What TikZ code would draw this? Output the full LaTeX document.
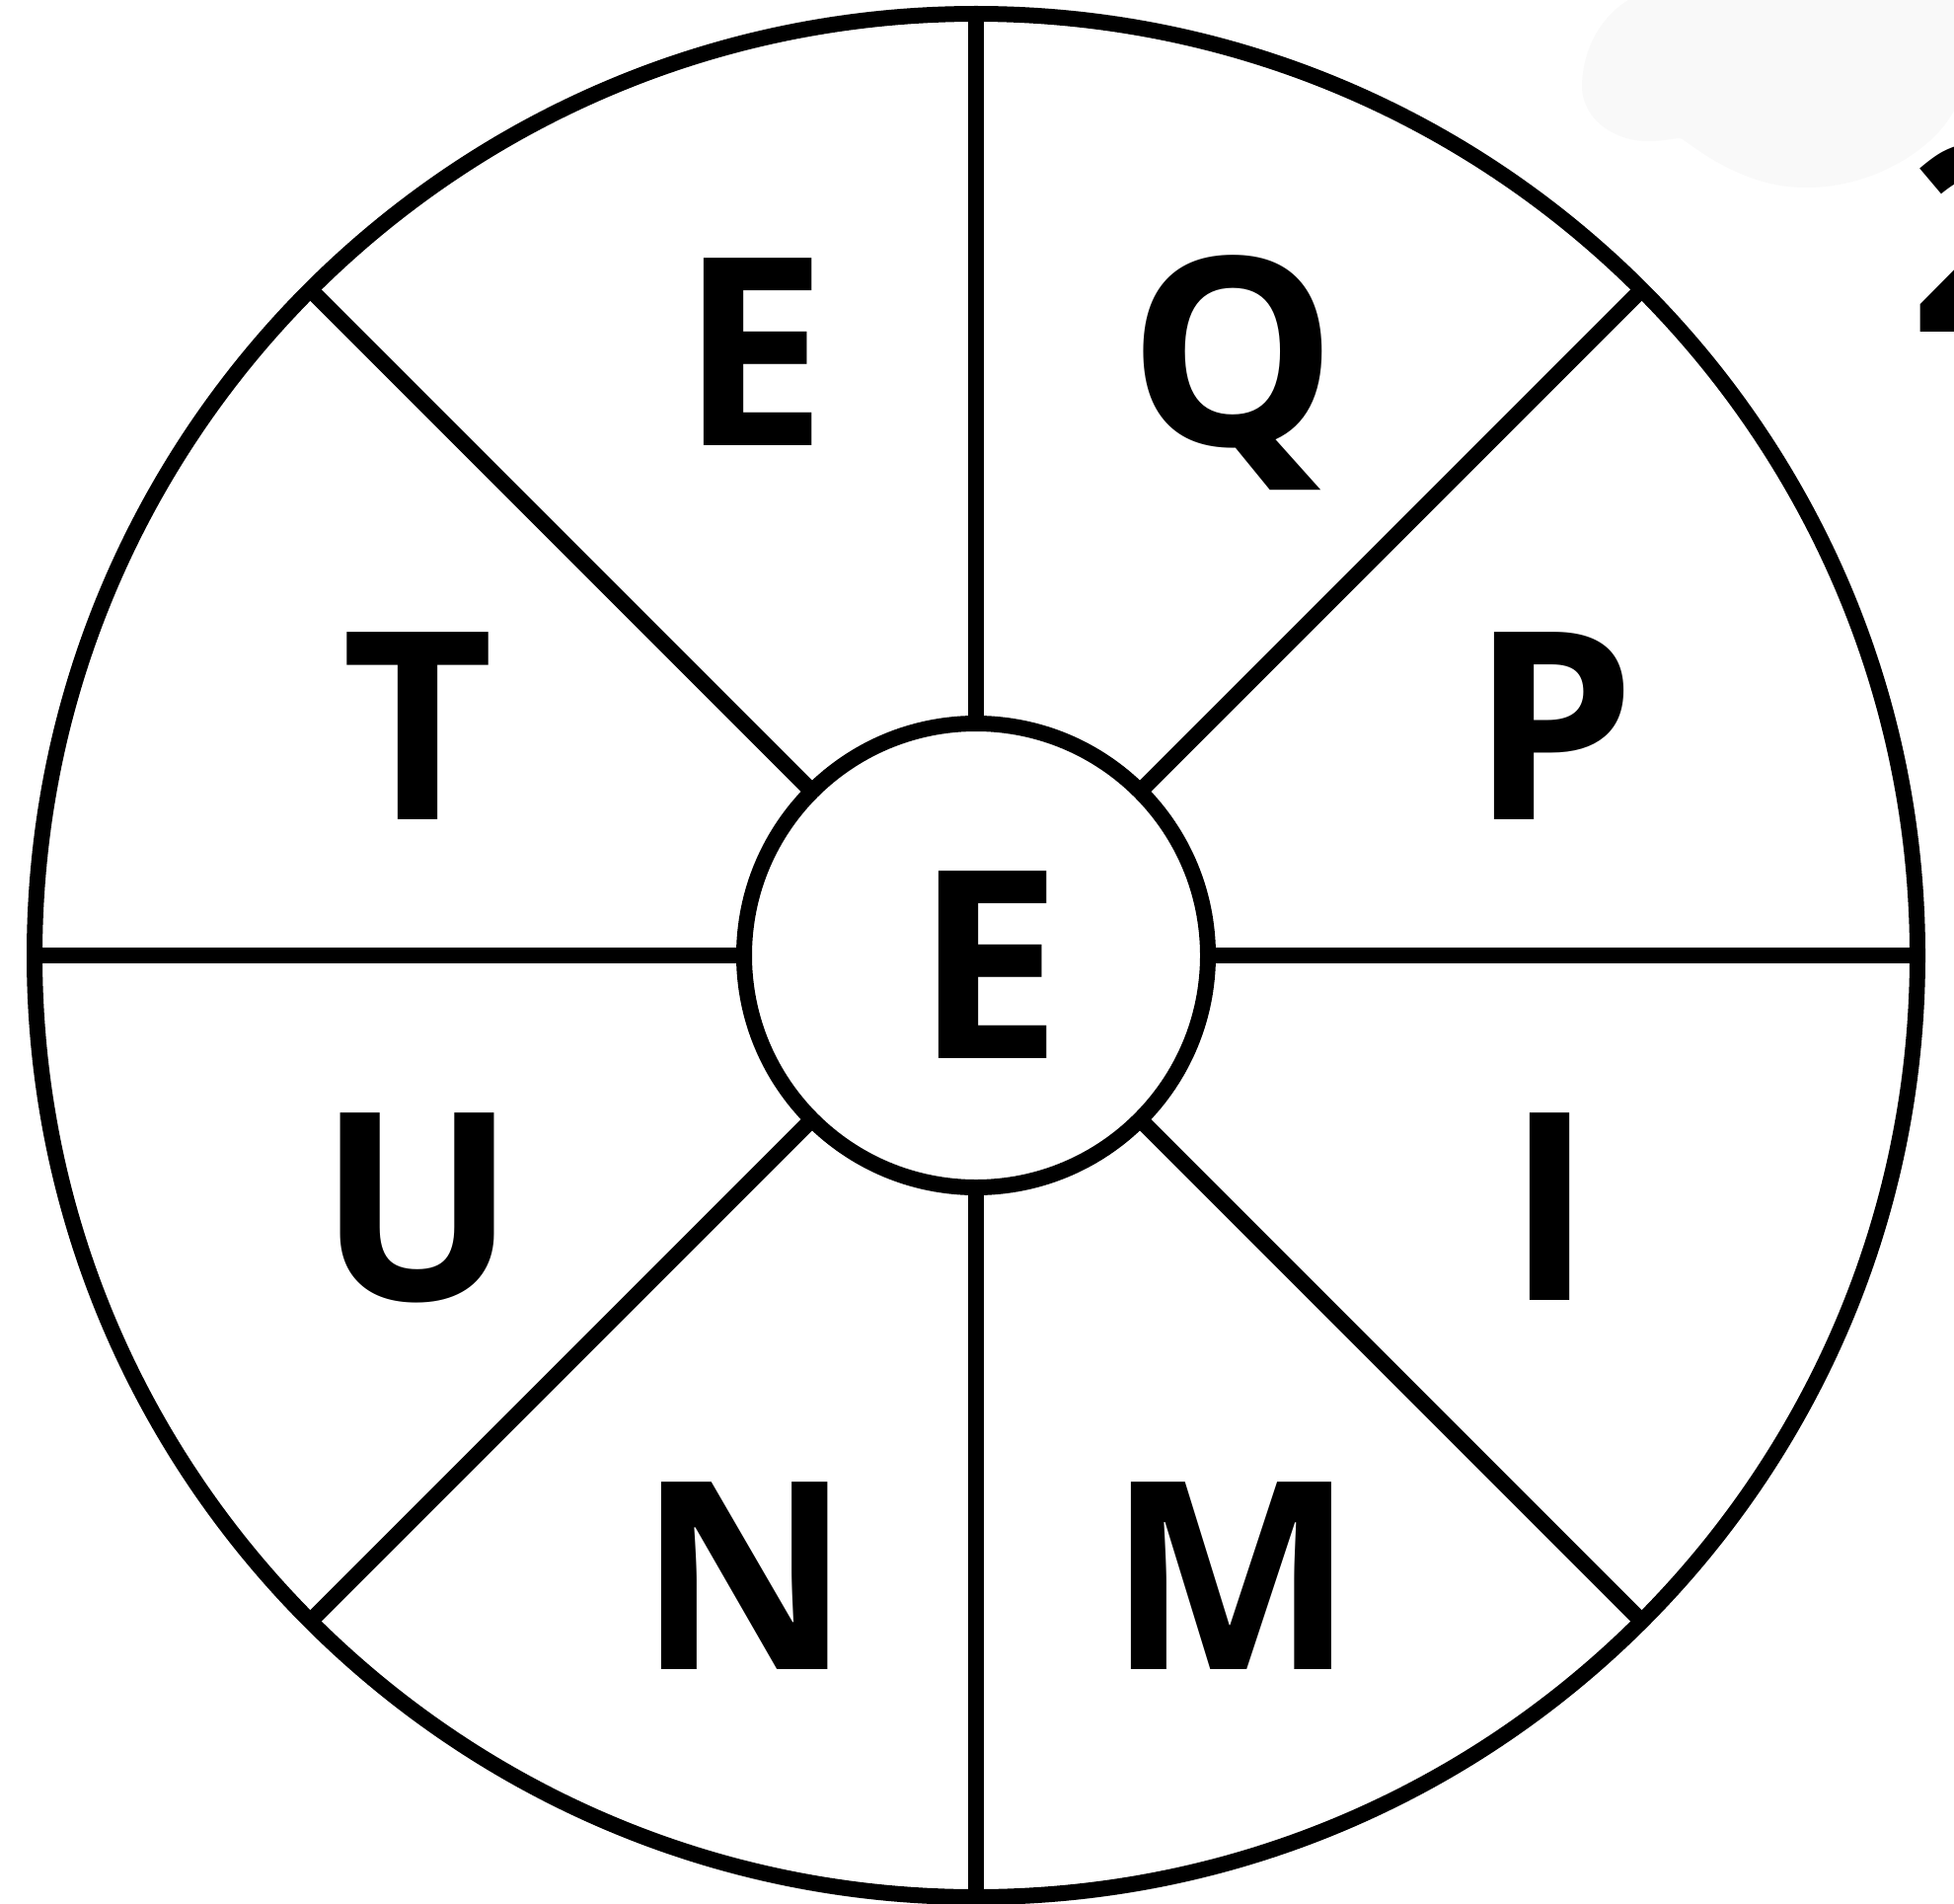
\documentclass[tikz,border=0pt]{standalone}
\usepackage{fontspec}
\newfontfamily\letterfont{Open Sans}
\begin{document}
\begin{tikzpicture}[x=1pt,y=-1pt,
  ring/.style={draw=black,line width=16pt,circle,inner sep=0pt,outer sep=0pt},
  spoke/.style={draw=black,line width=16pt},
  letter/.style={anchor=base,inner sep=0pt,font=\letterfont\bfseries\fontsize{266}{266}\selectfont}]
\useasboundingbox (0,0) rectangle (1980,1929);
\fill[white] (0,0) rectangle (1980,1929);
% faint blob top right
\fill[black!2.5] (1650,0) .. controls (1630,12) and (1605,40) .. (1603,85)
  .. controls (1602,120) and (1635,143) .. (1670,143)
  .. controls (1690,143) and (1700,138) .. (1705,141)
  .. controls (1750,175) and (1790,190) .. (1830,190)
  .. controls (1900,190) and (1960,150) .. (1980,112) -- (1980,0) -- cycle;
\node[letter,anchor=base west] (two) at (1935,336) {2};
\node[ring,minimum size=1908pt] (outer) at (989,968) {};
\node[ring,fill=white,minimum size=470pt] (inner) at (989,968) {};
\foreach \a in {0,45,...,315}{
  \draw[spoke] (inner.\a) -- (outer.\a);
}
\node[letter] (c) at (1002,1072) {E};
\node[letter] (l1) at (764,451) {E};
\node[letter] (l2) at (1249,451) {Q};
\node[letter] (l3) at (1574,830) {P};
\node[letter] (l4) at (1571,1317) {I};
\node[letter] (l5) at (1248,1691) {M};
\node[letter] (l6) at (755,1691) {N};
\node[letter] (l7) at (423,1317) {U};
\node[letter] (l8) at (424,830) {T};
\end{tikzpicture}
\end{document}
